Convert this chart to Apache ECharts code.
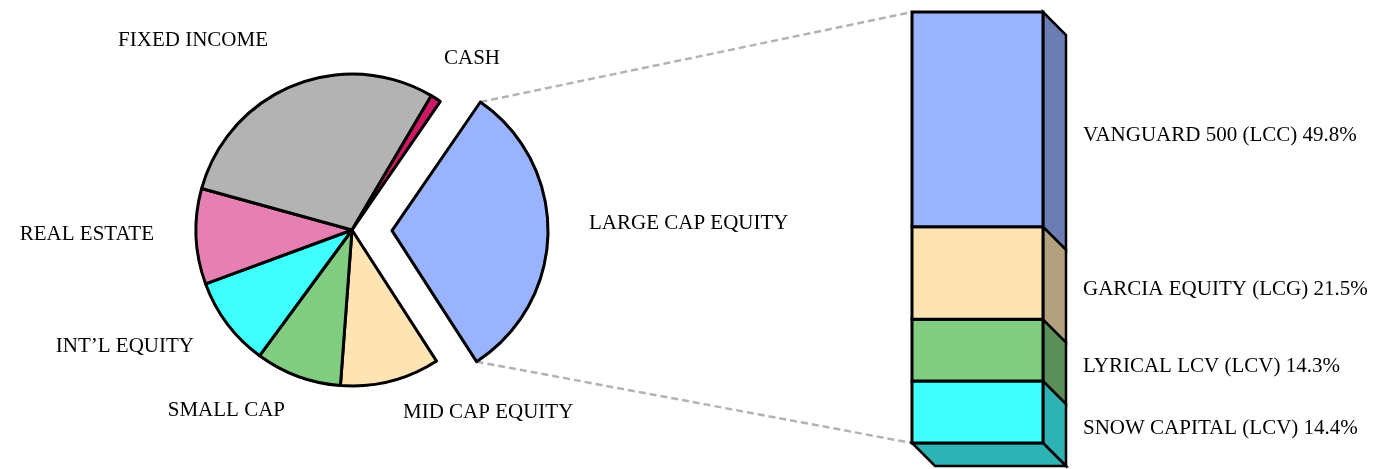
<!DOCTYPE html>
<html><head><meta charset="utf-8">
<script src="https://cdn.jsdelivr.net/npm/echarts@6/dist/echarts.min.js"></script>
<style>html,body{margin:0;padding:0;background:#fff}#chart{width:1377px;height:469px}</style>
</head><body><div id="chart"></div>
<script>
// ---- data ----
const assetClasses = ['LARGE CAP EQUITY', 'MID CAP EQUITY', 'SMALL CAP', 'INT\u2019L EQUITY', 'REAL ESTATE', 'FIXED INCOME', 'CASH'];
const assetWeights = [31.3, 10.3, 8.9, 9.3, 9.9, 29.2, 1.1];
const funds = ['SNOW CAPITAL (LCV)', 'LYRICAL LCV (LCV)', 'GARCIA EQUITY (LCG)', 'VANGUARD 500 (LCC)'];
const fundWeights = [14.4, 14.3, 21.5, 49.8];

// ---- styles ----
const assetColors = ['#99B3FF', '#FFE4B3', '#80CC80', '#40FFFF', '#E680B3', '#B3B3B3', '#CC1966'];
const fundColors = ['#40FFFF', '#80CC80', '#FFE4B3', '#99B3FF'];
const fundSideColors = ['#2DB3B3', '#5A8F5A', '#B3A07E', '#6B7DB3'];
// label anchor offsets relative to the main pie centre: [dx, dy, align]
const pieLabelOffsets = [[237, -7, 'left'], [51, 182, 'left'], [-67, 180, 'right'], [-158, 116, 'right'], [-198, 4, 'right'], [-84, -190, 'right'], [92, -172, 'left']];
const PIE_CENTER = [352, 230];
const PIE_RADIUS = 156;
const START_ANGLE = 55.5;
const EXPLODE = 40;
const EXPLODED_INDEX = 0;
const DEPTH = 23;
const FONT = '"Liberation Serif", "Times New Roman", serif';

const chart = echarts.init(document.getElementById('chart'), null, {renderer: 'canvas'});

let acc = 0;
const barData = fundWeights.map(function (v) { const s = acc; acc += v; return [s, acc, v]; });
const total = acc;

// exploded slice: shift its pie copy along the slice's mid angle
const pieTotal = assetWeights.reduce(function (a, b) { return a + b; }, 0);
let before = 0;
for (let k = 0; k < EXPLODED_INDEX; k++) before += assetWeights[k];
const midDeg = START_ANGLE - (before + assetWeights[EXPLODED_INDEX] / 2) / pieTotal * 360;
const explodedCenter = [PIE_CENTER[0] + EXPLODE * Math.cos(midDeg * Math.PI / 180), PIE_CENTER[1] - EXPLODE * Math.sin(midDeg * Math.PI / 180)];

const hidden = {color: 'rgba(0,0,0,0)', borderWidth: 0};
function pieSeries(center, showExploded) {
  return {
    type: 'pie',
    center: center,
    radius: PIE_RADIUS,
    startAngle: START_ANGLE,
    clockwise: true,
    avoidLabelOverlap: false,
    silent: true,
    itemStyle: {borderColor: '#000', borderWidth: 3},
    emphasis: {disabled: true},
    label: {show: true, position: 'outside', color: '#000', fontFamily: FONT, fontSize: 21},
    labelLine: {show: false},
    labelLayout: function (p) {
      const o = pieLabelOffsets[p.dataIndex];
      return {x: PIE_CENTER[0] + o[0], y: PIE_CENTER[1] + o[1], align: o[2], verticalAlign: 'middle'};
    },
    data: assetClasses.map(function (n, i) {
      const visible = (i === EXPLODED_INDEX) === showExploded;
      return visible
        ? {name: n, value: assetWeights[i], itemStyle: {color: assetColors[i]}}
        : {name: n, value: assetWeights[i], itemStyle: hidden, label: {show: false}};
    })
  };
}

const option = {
  animation: false,
  backgroundColor: '#fff',
  grid: {left: 912, top: 12, width: 131, height: 431},
  xAxis: {type: 'value', min: 0, max: 1, show: false},
  yAxis: {type: 'value', min: 0, max: total, show: false},
  series: [
    pieSeries(PIE_CENTER, false),
    pieSeries(explodedCenter, true),
    {
      type: 'custom',
      coordinateSystem: 'cartesian2d',
      encode: {x: -1, y: [0, 1]},
      data: barData,
      renderItem: function (params, api) {
        const i = params.dataIndex;
        const s = api.value(0), e = api.value(1);
        const tl = api.coord([0, e]), br = api.coord([1, s]);
        const xl = tl[0], yt = tl[1], xr = br[0], yb = br[1];
        const children = [];
        children.push({type: 'polygon', shape: {points: [[xr, yt], [xr + DEPTH, yt + DEPTH], [xr + DEPTH, yb + DEPTH], [xr, yb]]},
          style: {fill: fundSideColors[i], stroke: '#000', lineWidth: 2.5, lineJoin: 'miter'}});
        if (i === 0) {
          children.push({type: 'polygon', shape: {points: [[xl, yb], [xr, yb], [xr + DEPTH, yb + DEPTH], [xl + DEPTH, yb + DEPTH]]},
            style: {fill: fundSideColors[i], stroke: '#000', lineWidth: 2.5}});
        }
        children.push({type: 'rect', shape: {x: xl, y: yt, width: xr - xl, height: yb - yt},
          style: {fill: fundColors[i], stroke: '#000', lineWidth: 3}});
        children.push({type: 'text', x: xr + DEPTH + 17, y: (yt + yb) / 2 + 16.5,
          style: {text: funds[i] + ' ' + fundWeights[i].toFixed(1) + '%', fill: '#000', font: '21px ' + FONT, align: 'left', verticalAlign: 'middle'}});
        return {type: 'group', children: children};
      }
    }
  ]
};
chart.setOption(option);

// connector lines from the exploded slice to the stacked bar
let lay = null;
try { lay = chart.getModel().getSeriesByIndex(1).getData().getItemLayout(EXPLODED_INDEX); } catch (err) { lay = null; }
if (!lay) {
  const a0 = -START_ANGLE * Math.PI / 180;
  lay = {cx: explodedCenter[0], cy: explodedCenter[1], r: PIE_RADIUS, startAngle: a0, endAngle: a0 + assetWeights[0] / pieTotal * 2 * Math.PI};
}
const pa = [lay.cx + lay.r * Math.cos(lay.startAngle), lay.cy + lay.r * Math.sin(lay.startAngle)];
const pb = [lay.cx + lay.r * Math.cos(lay.endAngle), lay.cy + lay.r * Math.sin(lay.endAngle)];
const up = pa[1] < pb[1] ? pa : pb, down = pa[1] < pb[1] ? pb : pa;
const barTop = chart.convertToPixel({gridIndex: 0}, [0, total]);
const barBot = chart.convertToPixel({gridIndex: 0}, [0, 0]);
const dashStyle = {stroke: '#B3B3B3', lineWidth: 2.5, lineDash: [7, 4]};
chart.setOption({graphic: [
  {type: 'line', z: 0, shape: {x1: up[0], y1: up[1], x2: barTop[0], y2: barTop[1]}, style: dashStyle},
  {type: 'line', z: 0, shape: {x1: down[0], y1: down[1], x2: barBot[0], y2: barBot[1]}, style: dashStyle}
]});
</script>
</body></html>
